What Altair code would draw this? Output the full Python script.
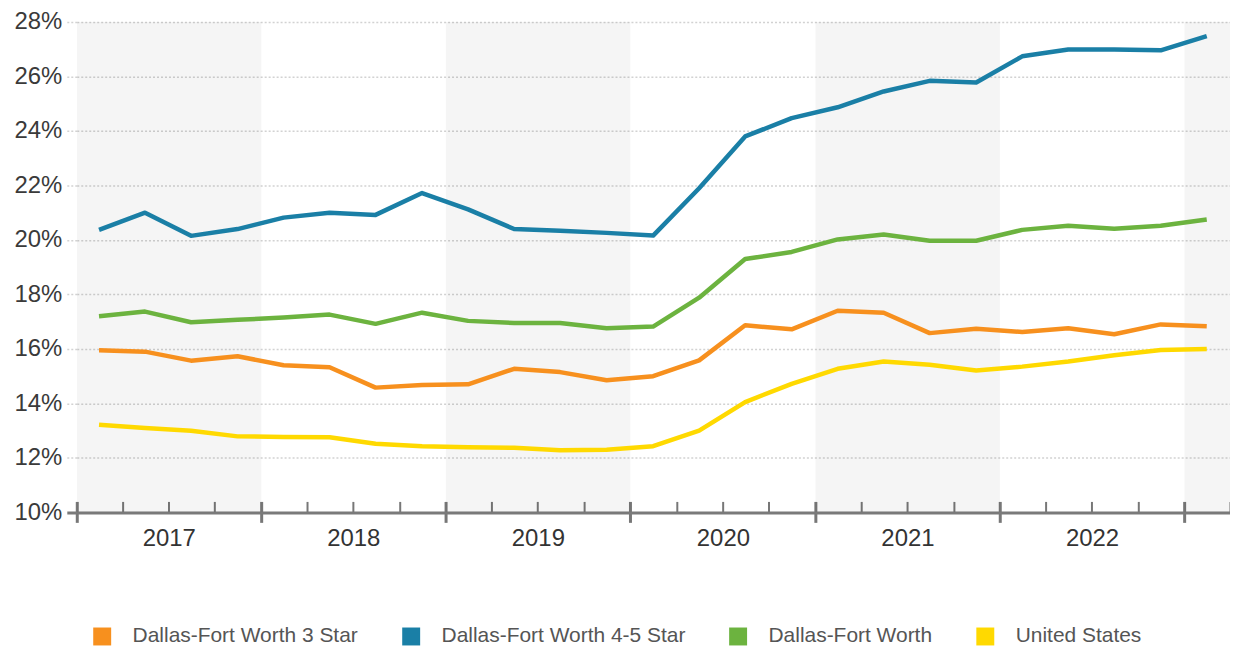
import altair as alt
import pandas as pd

# ---- data (vacancy / availability rate, %) ----
quarters = ["2017Q1", "2017Q2", "2017Q3", "2017Q4",
            "2018Q1", "2018Q2", "2018Q3", "2018Q4",
            "2019Q1", "2019Q2", "2019Q3", "2019Q4",
            "2020Q1", "2020Q2", "2020Q3", "2020Q4",
            "2021Q1", "2021Q2", "2021Q3", "2021Q4",
            "2022Q1", "2022Q2", "2022Q3", "2022Q4",
            "2023Q1"]

dfw_3_star = [15.95, 15.90, 15.57, 15.73,
              15.40, 15.33, 14.58, 14.68,
              14.70, 15.27, 15.15, 14.85,
              15.00, 15.58, 16.87, 16.72,
              17.40, 17.33, 16.58, 16.74,
              16.62, 16.76, 16.54, 16.90,
              16.83]

dfw_45_star = [20.37, 21.00, 20.15, 20.40,
               20.82, 21.00, 20.92, 21.72,
               21.12, 20.40, 20.34, 20.26,
               20.16, 21.90, 23.80, 24.47,
               24.87, 25.45, 25.84, 25.78,
               26.74, 26.99, 26.99, 26.96,
               27.48]

dfw_all = [17.20, 17.37, 16.98, 17.07,
           17.15, 17.26, 16.92, 17.33,
           17.03, 16.95, 16.95, 16.76,
           16.82, 17.88, 19.30, 19.56,
           20.02, 20.20, 19.97, 19.97,
           20.37, 20.52, 20.41, 20.52,
           20.75]

united_states = [13.22, 13.10, 13.00, 12.79,
                 12.77, 12.76, 12.52, 12.43,
                 12.39, 12.37, 12.28, 12.30,
                 12.43, 13.00, 14.05, 14.72,
                 15.27, 15.54, 15.42, 15.21,
                 15.35, 15.54, 15.77, 15.96,
                 16.00]

series_names = ["Dallas-Fort Worth 3 Star", "Dallas-Fort Worth 4-5 Star",
                "Dallas-Fort Worth", "United States"]
series_values = [dfw_3_star, dfw_45_star, dfw_all, united_states]
series_colors = ["#F7901E", "#1A7FA6", "#6CB33F", "#FFD900"]

y_ticks = [10, 12, 14, 16, 18, 20, 22, 24, 26, 28]
label_years = [2017, 2018, 2019, 2020, 2021, 2022]
band_start_years = [2017, 2019, 2021, 2023]

# ---- tables ----
def mid_quarter(q):
    p = pd.Period(q, freq="Q")
    s = p.start_time
    e = p.end_time
    return (s + (e - s) / 2).strftime("%Y-%m-%d")

rows = []
for name, vals in zip(series_names, series_values):
    for q, v in zip(quarters, vals):
        rows.append({"date": mid_quarter(q), "value": v, "series": name})
df = pd.DataFrame(rows)

bands_df = pd.DataFrame({
    "start": [f"{y}-01-01" for y in band_start_years],
    "end": [f"{y + 1}-01-01" for y in band_start_years],
})

x_scale = alt.Scale(
    type="utc",
    domain=[alt.DateTime(year=2017, month=1, date=1, utc=True),
            alt.DateTime(year=2023, month=4, date=1, utc=True)],
)

FONT = "Liberation Sans"

# axis with the quarter ticks (minor upward, major crossing the baseline)
quarter_ticks = [alt.DateTime(year=y, month=m, date=1, utc=True)
                 for y in range(2017, 2024) for m in (1, 4, 7, 10)
                 if not (y == 2023 and m > 4)]
tick_axis = alt.Axis(
    orient="bottom", offset=-11, values=quarter_ticks, title=None,
    domain=False, labels=False, grid=False, ticks=True,
    tickColor="#777777",
    tickSize={"condition": {"test": "utcmonth(datum.value) === 0", "value": 21}, "value": 11},
    tickWidth={"condition": {"test": "utcmonth(datum.value) === 0", "value": 3}, "value": 2},
)

year_axis = alt.Axis(
    orient="bottom", values=[alt.DateTime(year=y, month=7, date=2, utc=True) for y in label_years],
    format="%Y", title=None, ticks=False, grid=False,
    domain=True, domainColor="#7a7a7a", domainWidth=3,
    labelFont=FONT, labelFontSize=24, labelColor="#333333", labelPadding=14,
    labelOverlap=False, labelFlush=False,
)

y_axis = alt.Axis(
    values=y_ticks, title=None, labelExpr="datum.value + '%'",
    domain=False, grid=True, gridColor="#d2d2d2", gridDash=[2, 2], gridWidth=1.5,
    ticks=True, tickSize=10,
    tickColor={"condition": {"test": "datum.value === 10", "value": "#7a7a7a"}, "value": "#d2d2d2"},
    tickWidth={"condition": {"test": "datum.value === 10", "value": 3}, "value": 1.5},
    tickDash={"condition": {"test": "datum.value === 10", "value": [1, 0]}, "value": [2, 2]},
    labelFont=FONT, labelFontSize=24, labelColor="#3a3a3a", labelPadding=5,
)

bands = alt.Chart(bands_df).mark_rect(color="#000000", opacity=0.04, clip=True).encode(
    x=alt.X("start:T", scale=x_scale, axis=tick_axis),
    x2="end:T",
)

lines = alt.Chart(df).mark_line(strokeWidth=4.5, strokeJoin="round").encode(
    x=alt.X("date:T", scale=x_scale, axis=year_axis),
    y=alt.Y("value:Q", scale=alt.Scale(domain=[10, 28], nice=False, zero=False), axis=y_axis),
    color=alt.Color(
        "series:N",
        scale=alt.Scale(domain=series_names, range=series_colors),
        sort=series_names,
        legend=alt.Legend(
            title=None, orient="none", legendX=15, legendY=606,
            direction="horizontal", columns=4, columnPadding=30,
            symbolType="square", symbolSize=81, symbolStrokeWidth=9,
            labelFont=FONT, labelFontSize=21, labelColor="#555555",
            labelOffset=20, labelBaseline="middle", labelLimit=0,
        ),
    ),
)

chart = (
    alt.layer(bands, lines)
    .resolve_axis(x="independent")
    .properties(
        width=1157, height=492,
        autosize=alt.AutoSizeParams(type="none"),
        padding={"left": 69, "top": 13, "right": 0, "bottom": 133},
    )
    .configure_view(stroke=None)
)

chart.save("out.html", embed_options={"renderer": "svg", "actions": False})
